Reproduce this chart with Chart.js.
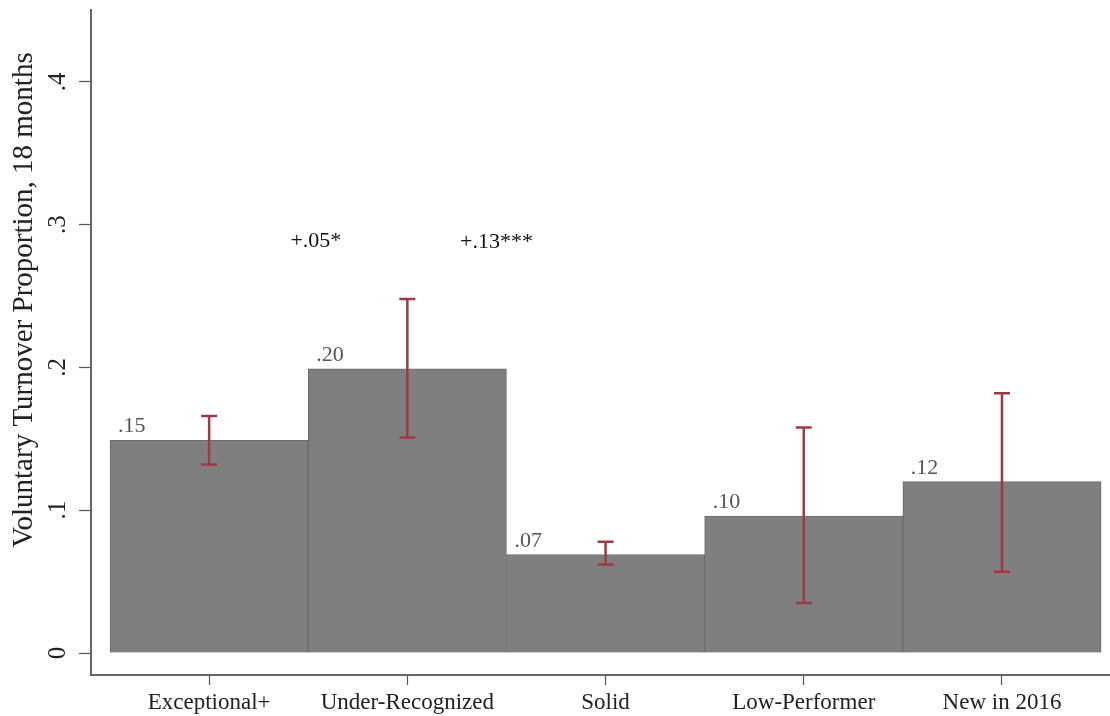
<!DOCTYPE html>
<html>
<head>
<meta charset="utf-8">
<script src="https://cdn.jsdelivr.net/npm/chart.js@4"></script>
<style>
	body { margin: 0; background: #fff; }
	#wrap { width: 1110px; height: 716px; }
</style>
</head>
<body>
<div id="wrap"><canvas id="myChart" width="1110" height="716"></canvas></div>
<script>
// data
var categories = ["Exceptional+", "Under-Recognized", "Solid", "Low-Performer", "New in 2016"];
var turnover = [0.149, 0.199, 0.069, 0.096, 0.120];
var ciLow = [0.132, 0.151, 0.062, 0.035, 0.057];
var ciHigh = [0.166, 0.248, 0.078, 0.158, 0.182];
var barLabels = [".15", ".20", ".07", ".10", ".12"];
var yTicks = [0, 0.1, 0.2, 0.3, 0.4];
var yTickLabels = ["0", ".1", ".2", ".3", ".4"];
var annotText = ["+.05*", "+.13***"];
var annotX = [0.41, 1.266];
var annotY = [0.2844, 0.2837];

var serif = "'Liberation Serif', 'Times New Roman', serif";

var extras = {
	id: "extras",
	afterDatasetsDraw: function (chart) {
		var ctx = chart.ctx;
		var xs = chart.scales.x;
		var ys = chart.scales.y;
		var meta = chart.getDatasetMeta(0);

		// error bars
		ctx.save();
		ctx.strokeStyle = "#9f3942";
		ctx.lineWidth = 2.5;
		for (var i = 0; i < turnover.length; i++) {
			var px = xs.getPixelForValue(i);
			var top = ys.getPixelForValue(ciHigh[i]);
			var bot = ys.getPixelForValue(ciLow[i]);
			ctx.beginPath();
			ctx.moveTo(px, top);
			ctx.lineTo(px, bot);
			ctx.moveTo(px - 8, top);
			ctx.lineTo(px + 8, top);
			ctx.moveTo(px - 8, bot);
			ctx.lineTo(px + 8, bot);
			ctx.stroke();
		}
		ctx.restore();

		// bar value labels
		ctx.save();
		ctx.font = "22px " + serif;
		ctx.fillStyle = "#555";
		ctx.textAlign = "left";
		ctx.textBaseline = "alphabetic";
		meta.data.forEach(function (bar, i) {
			var left = bar.x - bar.width / 2;
			ctx.fillText(barLabels[i], left + 8, bar.y - 8);
		});
		ctx.restore();

		// difference notes
		ctx.save();
		ctx.font = "22px " + serif;
		ctx.fillStyle = "#111";
		ctx.textAlign = "left";
		for (var k = 0; k < annotText.length; k++) {
			ctx.fillText(annotText[k], xs.getPixelForValue(annotX[k]), ys.getPixelForValue(annotY[k]));
		}
		ctx.restore();

		// y tick labels, rotated
		ctx.save();
		ctx.font = "25px " + serif;
		ctx.fillStyle = "#222";
		ctx.textAlign = "center";
		ctx.textBaseline = "alphabetic";
		for (var t = 0; t < yTicks.length; t++) {
			ctx.save();
			ctx.translate(65, ys.getPixelForValue(yTicks[t]));
			ctx.rotate(-Math.PI / 2);
			ctx.fillText(yTickLabels[t], 0, 0);
			ctx.restore();
		}
		// y title
		ctx.font = "29px " + serif;
		ctx.translate(32, 300);
		ctx.rotate(-Math.PI / 2);
		ctx.fillText("Voluntary Turnover Proportion, 18 months", 0, 0);
		ctx.restore();
	}
};

document.addEventListener("DOMContentLoaded", function () {
	var ctx = document.getElementById("myChart").getContext("2d");
	var myChart = new Chart(ctx, {
		type: "bar",
		data: {
			datasets: [
				{
					data: turnover.map(function (v, i) { return { x: i, y: v }; }),
					backgroundColor: "#7f7f7f",
					borderColor: "#6b6b6b",
					borderWidth: 1,
					barPercentage: 1,
					categoryPercentage: 1,
				},
			],
		},
		options: {
			responsive: false,
			animation: false,
			layout: { padding: { top: 10, right: 0, left: 0, bottom: 0 } },
			plugins: {
				legend: { display: false },
				tooltip: { enabled: false },
			},
			scales: {
				x: {
					type: "linear",
					offset: false,
					min: -0.596,
					max: 4.545,
					afterBuildTicks: function (scale) {
						scale.ticks = categories.map(function (c, i) { return { value: i }; });
					},
					afterFit: function (scale) { scale.height = 41; },
					ticks: {
						autoSkip: false,
						maxRotation: 0,
						padding: 4,
						color: "#222",
						font: { family: serif, size: 23 },
						callback: function (v) { return categories[v]; },
					},
					grid: { offset: false, drawOnChartArea: false, tickLength: 10, color: "#555", tickWidth: 1.2 },
					border: { color: "#666", width: 2 },
				},
				y: {
					min: -0.0154,
					max: 0.4504,
					afterBuildTicks: function (scale) {
						scale.ticks = yTicks.map(function (v) { return { value: v }; });
					},
					afterFit: function (scale) { scale.width = 91; },
					ticks: { display: false },
					grid: { drawOnChartArea: false, tickLength: 12, color: "#555", tickWidth: 1.2 },
					border: { color: "#666", width: 2 },
				},
			},
		},
		plugins: [extras],
	});
});
</script>
</body>
</html>
